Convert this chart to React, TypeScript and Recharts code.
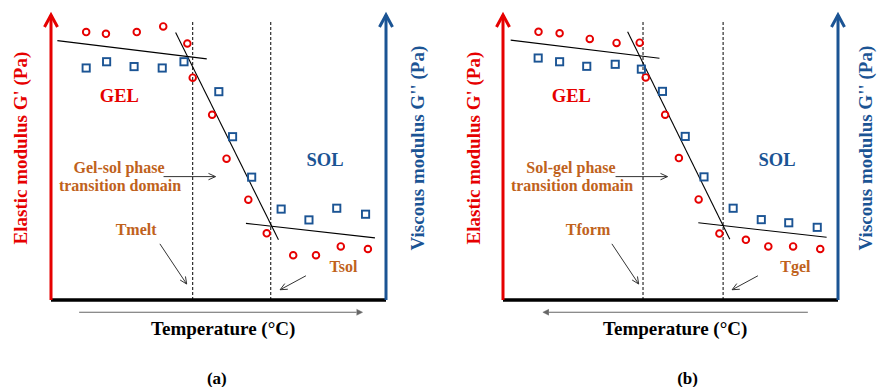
import {
  ComposedChart,
  XAxis,
  YAxis,
  Scatter,
  Line,
  ReferenceLine,
  ReferenceDot,
} from "recharts"

const RED = "#e60000"
const BLUE = "#1b5494"
const BROWN = "#c0621c"
const SERIF = "'Liberation Serif', 'Times New Roman', serif"

// (a) heating - temperature / modulus in arbitrary units (0-100)
const gPrimeTempA = [10.5, 16.4, 25.6, 33.5, 40.7, 42.3, 48.1, 52.4, 58.9, 64.4, 72.3, 79.1, 86.5, 94.6]
const gPrimeA = [94, 93.4, 94, 96, 90, 78, 65, 49.6, 35.2, 23.4, 15.7, 15.7, 18.8, 17.9]
const gDoubleTempA = [10.5, 16.6, 24.8, 33.2, 39.7, 50.1, 54.2, 59.9, 68.7, 77, 85.3, 93.9]
const gDoubleA = [81.4, 83.6, 81.9, 81.4, 83.6, 73.1, 57.3, 43.1, 31.9, 28.1, 32.2, 30.1]
const fitsA = [
  [1.9, 91, 46.5, 84.6],
  [37.2, 93.9, 67.9, 21.1],
  [58.2, 26.9, 96.7, 21.8],
]
const transA = [42.3, 65.6]

// (b) cooling
const gPrimeTempB = [10.6, 16.9, 25.9, 33.9, 40.8, 42.6, 48.4, 52.5, 58.4, 64.6, 72.5, 79.2, 86.6, 94.7]
const gPrimeB = [94.1, 93.6, 91.6, 90.2, 90.3, 78.1, 65, 49.8, 35.3, 23.3, 21.1, 18.8, 18.8, 17.9]
const gDoubleTempB = [10.5, 16.9, 25, 33.5, 41.3, 47.6, 54.4, 60, 68.7, 77.1, 85.3, 93.8]
const gDoubleB = [84.9, 83.6, 82, 82.7, 81, 73.2, 57.4, 43.2, 32.2, 28.2, 27.1, 25.5]
const fitsB = [
  [2.3, 91.2, 46.7, 84.8],
  [37.2, 94.1, 67.7, 21.3],
  [58.3, 27.1, 96.6, 22],
]
const transB = [41.8, 65.7]

const toPoints = (xs: number[], ys: number[]) => xs.map((x, i) => ({ x, y: ys[i] }))

const RedCircle = (p: any) => (
  <circle cx={p.cx} cy={p.cy} r={3.3} fill="none" stroke={RED} strokeWidth={1.9} />
)
const BlueSquare = (p: any) => (
  <rect x={p.cx - 3.6} y={p.cy - 3.6} width={7.2} height={7.2} fill="none" stroke={BLUE} strokeWidth={1.9} />
)

// line with arrow head at the end point
const arrow = (color: string, width: number, len: number, half: number, filled = false) => (p: any) => {
  const { x1, y1, x2, y2 } = p
  const dx = x2 - x1
  const dy = y2 - y1
  const d = Math.hypot(dx, dy) || 1
  const ux = dx / d
  const uy = dy / d
  const bx = x2 - ux * len
  const by = y2 - uy * len
  const pts = `${bx - uy * half},${by + ux * half} ${x2},${y2} ${bx + uy * half},${by - ux * half}`
  return (
    <g>
      <line x1={x1} y1={y1} x2={filled ? bx : x2} y2={filled ? by : y2} stroke={color} strokeWidth={width} />
      <polyline
        points={pts}
        fill={filled ? color : "none"}
        stroke={color}
        strokeWidth={filled ? 0.5 : width}
      />
    </g>
  )
}

const label = (text: string, color: string, size: number, rotate = false) => (p: any) => (
  <text
    x={p.cx}
    y={p.cy}
    textAnchor="middle"
    dominantBaseline="central"
    fill={color}
    fontFamily={SERIF}
    fontWeight="bold"
    fontSize={size}
    transform={rotate ? `rotate(-90 ${p.cx} ${p.cy})` : undefined}
  >
    {text}
  </text>
)

interface PanelProps {
  width: number
  right: number
  gpT: number[]
  gp: number[]
  gppT: number[]
  gpp: number[]
  fits: number[][]
  trans: number[]
  domain: string[]
  tLow: string
  tHigh: string
  heating: boolean
  tag: string
}

const Panel = ({ width, right, gpT, gp, gppT, gpp, fits, trans, domain, tLow, tHigh, heating, tag }: PanelProps) => (
  <ComposedChart width={width} height={387} margin={{ top: 15, right, bottom: 87, left: 51 }}>
    <XAxis type="number" dataKey="x" domain={[0, 100]} hide />
    <YAxis type="number" dataKey="y" domain={[0, 100]} hide />

    {/* axes */}
    <ReferenceLine segment={[{ x: 0, y: 0 }, { x: 100, y: 0 }]} stroke="#000" strokeWidth={3.5} ifOverflow="visible" />
    <ReferenceLine
      segment={[{ x: 0, y: 0 }, { x: 0, y: 100 }]}
      ifOverflow="visible"
      shape={arrow(RED, 3, 12, 6.5)}
    />
    <ReferenceLine
      segment={[{ x: 100, y: 0 }, { x: 100, y: 100 }]}
      ifOverflow="visible"
      shape={arrow(BLUE, 3, 12, 6.5)}
    />

    {/* transition temperatures */}
    {trans.map((t) => (
      <ReferenceLine
        key={t}
        segment={[{ x: t, y: 0 }, { x: t, y: 98 }]}
        stroke="#000"
        strokeWidth={1}
        strokeDasharray="3 2"
        ifOverflow="visible"
      />
    ))}

    {/* tangent lines */}
    {fits.map((f, i) => (
      <Line
        key={`fit-${i}`}
        data={[{ x: f[0], y: f[1] }, { x: f[2], y: f[3] }]}
        dataKey="y"
        type="linear"
        stroke="#000"
        strokeWidth={1.1}
        dot={false}
        activeDot={false}
        isAnimationActive={false}
      />
    ))}

    <Scatter data={toPoints(gpT, gp)} dataKey="y" shape={RedCircle} isAnimationActive={false} />
    <Scatter data={toPoints(gppT, gpp)} dataKey="y" shape={BlueSquare} isAnimationActive={false} />

    {/* annotation arrows */}
    <ReferenceLine segment={[{ x: 33.6, y: 43.3 }, { x: 49.1, y: 43.3 }]} ifOverflow="visible" shape={arrow("#333", 1, 7, 3.2)} />
    <ReferenceLine segment={[{ x: 32.5, y: 19.7 }, { x: 40.5, y: 5.6 }]} ifOverflow="visible" shape={arrow("#333", 1, 7, 3.2)} />
    <ReferenceLine segment={[{ x: 76.1, y: 8.5 }, { x: 68.4, y: 3.6 }]} ifOverflow="visible" shape={arrow("#333", 1, 7, 3.2)} />
    <ReferenceLine
      segment={heating ? [{ x: 8.4, y: -4.3 }, { x: 93, y: -4.3 }] : [{ x: 91, y: -4.3 }, { x: 11.9, y: -4.3 }]}
      ifOverflow="visible"
      shape={arrow("#666", 1.2, 6, 3, true)}
    />

    {/* texts */}
    <ReferenceDot x={20.4} y={71.6} r={0} ifOverflow="visible" shape={label("GEL", RED, 18.5)} />
    <ReferenceDot x={81.8} y={49} r={0} ifOverflow="visible" shape={label("SOL", BLUE, 18.5)} />
    <ReferenceDot x={20.3} y={46.4} r={0} ifOverflow="visible" shape={label(domain[0], BROWN, 16)} />
    <ReferenceDot x={20.6} y={40.1} r={0} ifOverflow="visible" shape={label(domain[1], BROWN, 16)} />
    <ReferenceDot x={25.4} y={24.6} r={0} ifOverflow="visible" shape={label(tLow, BROWN, 16)} />
    <ReferenceDot x={87.3} y={11.7} r={0} ifOverflow="visible" shape={label(tHigh, BROWN, 16)} />
    <ReferenceDot x={51.4} y={-10.1} r={0} ifOverflow="visible" shape={label("Temperature (°C)", "#000", 19)} />
    <ReferenceDot x={heating ? 49.5 : 55.1} y={-27.5} r={0} ifOverflow="visible" shape={label(tag, "#000", 17)} />
    <ReferenceDot x={heating ? -9.25 : -8.9} y={53.3} r={0} ifOverflow="visible" shape={label("Elastic modulus G' (Pa)", RED, 19, true)} />
    <ReferenceDot x={heating ? 109.3 : 108.3} y={53.3} r={0} ifOverflow="visible" shape={label("Viscous modulus G'' (Pa)", BLUE, 19, true)} />
  </ComposedChart>
)

export default function App() {
  return (
    <div style={{ position: "absolute", left: 0, top: 0, width: 878, height: 387, background: "#fff", overflow: "hidden" }}>
      <div style={{ position: "absolute", left: 0, top: 0 }}>
        <Panel
          width={439}
          right={53}
          gpT={gPrimeTempA}
          gp={gPrimeA}
          gppT={gDoubleTempA}
          gpp={gDoubleA}
          fits={fitsA}
          trans={transA}
          domain={["Gel-sol phase", "transition domain"]}
          tLow="Tmelt"
          tHigh="Tsol"
          heating
          tag="(a)"
        />
      </div>
      <div style={{ position: "absolute", left: 452, top: 0 }}>
        <Panel
          width={426}
          right={40}
          gpT={gPrimeTempB}
          gp={gPrimeB}
          gppT={gDoubleTempB}
          gpp={gDoubleB}
          fits={fitsB}
          trans={transB}
          domain={["Sol-gel phase", "transition domain"]}
          tLow="Tform"
          tHigh="Tgel"
          heating={false}
          tag="(b)"
        />
      </div>
    </div>
  )
}
